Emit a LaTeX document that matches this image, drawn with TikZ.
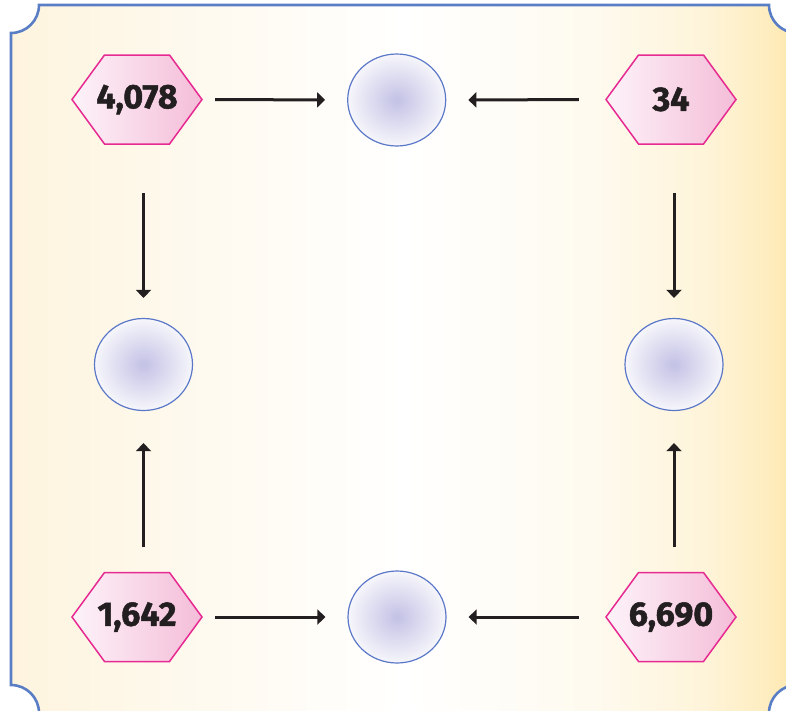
\documentclass[tikz,border=0pt]{standalone}
\usepackage{fontspec}
\setmainfont{Fira Sans}[BoldFeatures={FakeBold=1.5}]
\usetikzlibrary{shapes.geometric,arrows.meta}
\definecolor{framebl}{HTML}{5A7EC5}
\definecolor{hexline}{HTML}{E62A92}
\definecolor{hexleft}{HTML}{FDF3F9}
\definecolor{hexright}{HTML}{F4BDD8}
\definecolor{circline}{HTML}{5B78C8}
\definecolor{circin}{HTML}{C3C1E5}
\definecolor{circout}{HTML}{F6F6FB}
\definecolor{ink}{HTML}{231F20}
\pgfdeclarehorizontalshading{bgshade}{100bp}{%
  color(0bp)=(rgb,255:red,254;green,244;blue,222);
  color(25bp)=(rgb,255:red,254;green,244;blue,222);
  color(31bp)=(rgb,255:red,254;green,247;blue,231);
  color(42.5bp)=(rgb,255:red,255;green,252;blue,246);
  color(50bp)=(rgb,255:red,255;green,255;blue,255);
  color(62bp)=(rgb,255:red,254;green,250;blue,239);
  color(69bp)=(rgb,255:red,254;green,244;blue,218);
  color(73bp)=(rgb,255:red,254;green,237;blue,192);
  color(75bp)=(rgb,255:red,253;green,231;blue,172);
  color(100bp)=(rgb,255:red,253;green,231;blue,172)}
\tikzset{
  hexshape/.style={draw=hexline, line width=1.5pt, left color=hexleft, right color=hexright},
  hextext/.style={minimum width=130pt, minimum height=89pt, inner sep=0pt,
    font=\fontsize{34}{34}\selectfont\bfseries, text=ink},
  circnode/.style={ellipse, minimum width=98pt, minimum height=92pt, inner sep=0pt,
    draw=circline, line width=1.2pt, inner color=circin, outer color=circout},
  arr/.style={draw=ink, line width=3pt, -{Triangle[width=15pt,length=8pt]}}
}
\newcommand{\hexagonat}[4]{%
  \path[hexshape] (#2-65,#3) -- (#2-32.5,#3+44.5) -- (#2+32.5,#3+44.5) -- (#2+65,#3)
    -- (#2+32.5,#3-44.5) -- (#2-32.5,#3-44.5) -- cycle;
  \node[hextext] (#1) at (#2,#3) {\raisebox{1pt}{#4}};
}
\begin{document}
\begin{tikzpicture}[x=1pt,y=1pt]
\useasboundingbox (0,0) rectangle (786,-710);
% frame
\path[draw=framebl, line width=2.6pt, shading=bgshade]
  (39,-5) -- (769,-5) arc[start angle=180, end angle=270, radius=28]
  -- (797,-685) arc[start angle=90, end angle=180, radius=28]
  -- (39,-713) arc[start angle=0, end angle=90, radius=28]
  -- (11,-33) arc[start angle=270, end angle=360, radius=28] -- cycle;
% hexagons
\hexagonat{h1}{137}{-99.5}{4,078}
\hexagonat{h2}{671}{-99.5}{34}
\hexagonat{h3}{137}{-617}{1,642}
\hexagonat{h4}{671}{-617}{6,690}
% circles
\node[circnode] (c1) at (396.7,-100) {};
\node[circnode] (c3) at (143.5,-364.5) {};
\node[circnode] (c4) at (674,-364.5) {};
\node[circnode] (c5) at (397,-617) {};
% arrows
\draw[arr, shorten <=13pt, shorten >=22pt] (h1.east) -- (c1.west);
\draw[arr, shorten <=27pt, shorten >=22pt] (h2.west) -- (c1.east);
\draw[arr, shorten <=49pt, shorten >=20pt] (h1.south -| c3.north) -- (c3.north);
\draw[arr, shorten <=49pt, shorten >=20pt] (h2.south -| c4.north) -- (c4.north);
\draw[arr, shorten <=25pt, shorten >=32pt] (h3.north -| c3.south) -- (c3.south);
\draw[arr, shorten <=25pt, shorten >=32pt] (h4.north -| c4.south) -- (c4.south);
\draw[arr, shorten <=13pt, shorten >=22pt] (h3.east) -- (c5.west);
\draw[arr, shorten <=27pt, shorten >=22pt] (h4.west) -- (c5.east);
\end{tikzpicture}
\end{document}
